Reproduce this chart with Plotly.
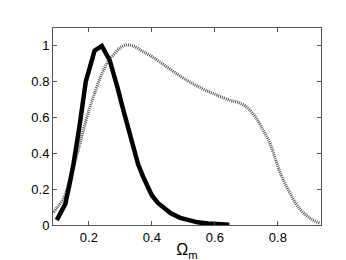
import plotly.graph_objects as go

solid_x = [0.098, 0.125, 0.14, 0.151, 0.17, 0.19, 0.218, 0.241, 0.266, 0.28, 0.292, 0.305, 0.318, 0.33, 0.343, 0.356, 0.372, 0.387, 0.4, 0.42, 0.44, 0.46, 0.49, 0.514, 0.545, 0.578, 0.61, 0.646]
solid_y = [0.027, 0.117, 0.24, 0.34, 0.55, 0.8, 0.973, 1.0, 0.92, 0.84, 0.76, 0.67, 0.58, 0.5, 0.42, 0.34, 0.27, 0.205, 0.165, 0.122, 0.09, 0.065, 0.04, 0.027, 0.015, 0.008, 0.004, 0.002]

dot_x = [0.088, 0.1, 0.12, 0.14, 0.165, 0.181, 0.2, 0.215, 0.24, 0.263, 0.278, 0.3, 0.318, 0.34, 0.37, 0.4, 0.45, 0.5, 0.55, 0.6, 0.65, 0.673, 0.7, 0.726, 0.75, 0.774, 0.79, 0.81, 0.835, 0.858, 0.88, 0.905, 0.932]
dot_y = [0.072, 0.1, 0.15, 0.26, 0.41, 0.52, 0.64, 0.72, 0.84, 0.92, 0.95, 0.99, 1.005, 1.0, 0.97, 0.94, 0.88, 0.82, 0.77, 0.73, 0.695, 0.685, 0.66, 0.61, 0.54, 0.46, 0.38, 0.28, 0.19, 0.117, 0.07, 0.035, 0.01]

x_ticks = [0.2, 0.4, 0.6, 0.8]
y_ticks = [0, 0.2, 0.4, 0.6, 0.8, 1]

fig = go.Figure()
fig.add_trace(go.Scatter(x=dot_x, y=dot_y, mode="lines",
                         line=dict(color="#555555", width=3, dash="1px,1px", shape="spline"),
                         showlegend=False))
fig.add_trace(go.Scatter(x=solid_x, y=solid_y, mode="lines",
                         line=dict(color="black", width=4.5),
                         showlegend=False))

axis_common = dict(showgrid=False, zeroline=False, showline=True, mirror="ticks",
                   linecolor="#555555", linewidth=1, ticks="inside", ticklen=4,
                   tickcolor="#555555", tickfont=dict(family="Liberation Sans, Arial", size=13, color="black"))

fig.update_xaxes(range=[0.086, 0.937], tickvals=x_ticks, ticktext=[str(v) for v in x_ticks],
                 title=dict(text="Ω<sub>m</sub>", font=dict(family="Liberation Sans, Arial", size=16, color="black"), standoff=0),
                 **axis_common)
fig.update_yaxes(range=[0, 1.1], tickvals=y_ticks, ticktext=[str(v) for v in y_ticks], **axis_common)

fig.update_layout(width=346, height=260, margin=dict(l=45, r=33, t=20, b=37),
                  plot_bgcolor="white", paper_bgcolor="white")
fig.write_html("out.html")
